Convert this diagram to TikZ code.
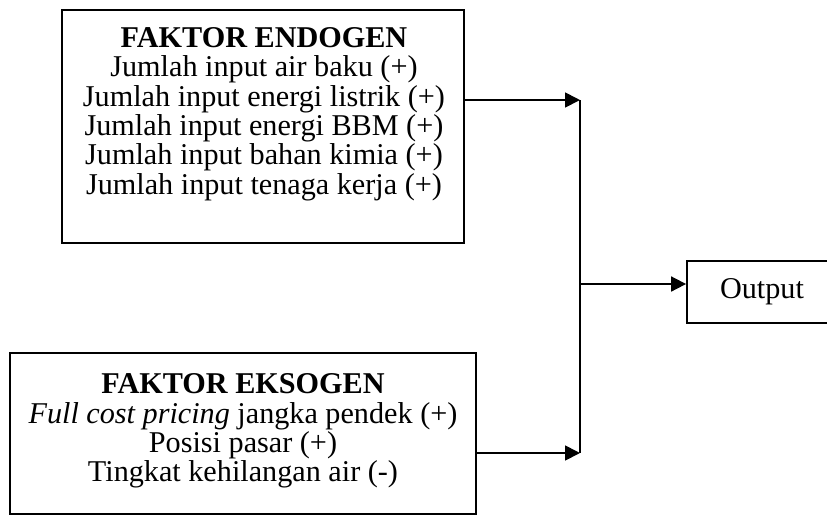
\documentclass[tikz,border=0pt]{standalone}
\usepackage{fontspec}
\setmainfont{Liberation Serif}
\usetikzlibrary{arrows.meta}
\begin{document}
\begin{tikzpicture}[x=0.5pt,y=-0.5pt,
  frame/.style={draw, line width=0.9pt, rectangle, inner sep=0pt},
  body/.style={align=center, inner sep=0pt, font=\fontsize{15.1}{14.7}\selectfont},
  link/.style={line width=0.9pt},
  feed/.style={link, -{Triangle[length=7.5pt,width=7.5pt]}}]
  \useasboundingbox (0,0) rectangle (827,516);

  % factor boxes
  \node[frame, minimum width=201pt, minimum height=116.5pt] (endo) at (263,126.5) {};
  \node[body] (endotext) at (264,114) {\textbf{FAKTOR ENDOGEN}\\
    Jumlah input air baku (+)\\
    Jumlah input energi listrik (+)\\
    Jumlah input energi BBM (+)\\
    Jumlah input bahan kimia (+)\\
    Jumlah input tenaga kerja (+)};

  \node[frame, minimum width=233pt, minimum height=80.5pt] (ekso) at (243,433.5) {};
  \node[body] (eksotext) at (243,431) {\textbf{FAKTOR EKSOGEN}\\
    \textit{Full cost pricing} jangka pendek (+)\\
    Posisi pasar (+)\\
    Tingkat kehilangan air (-)};

  % output box (runs past the right edge)
  \node[frame, body, minimum width=75pt, minimum height=31pt] (out) at (762,292) {Output};

  % junction points on the collecting line
  \coordinate (jt) at (580,100);
  \coordinate (jm) at (580,284);
  \coordinate (jb) at (580,453);

  \draw[feed] (endo.east |- jt) -- (jt);
  \draw[feed] (ekso.east |- jb) -- (jb);
  \draw[link] (jt) -- (jb);
  \draw[feed] (jm) -- (out.west |- jm);
\end{tikzpicture}
\end{document}
